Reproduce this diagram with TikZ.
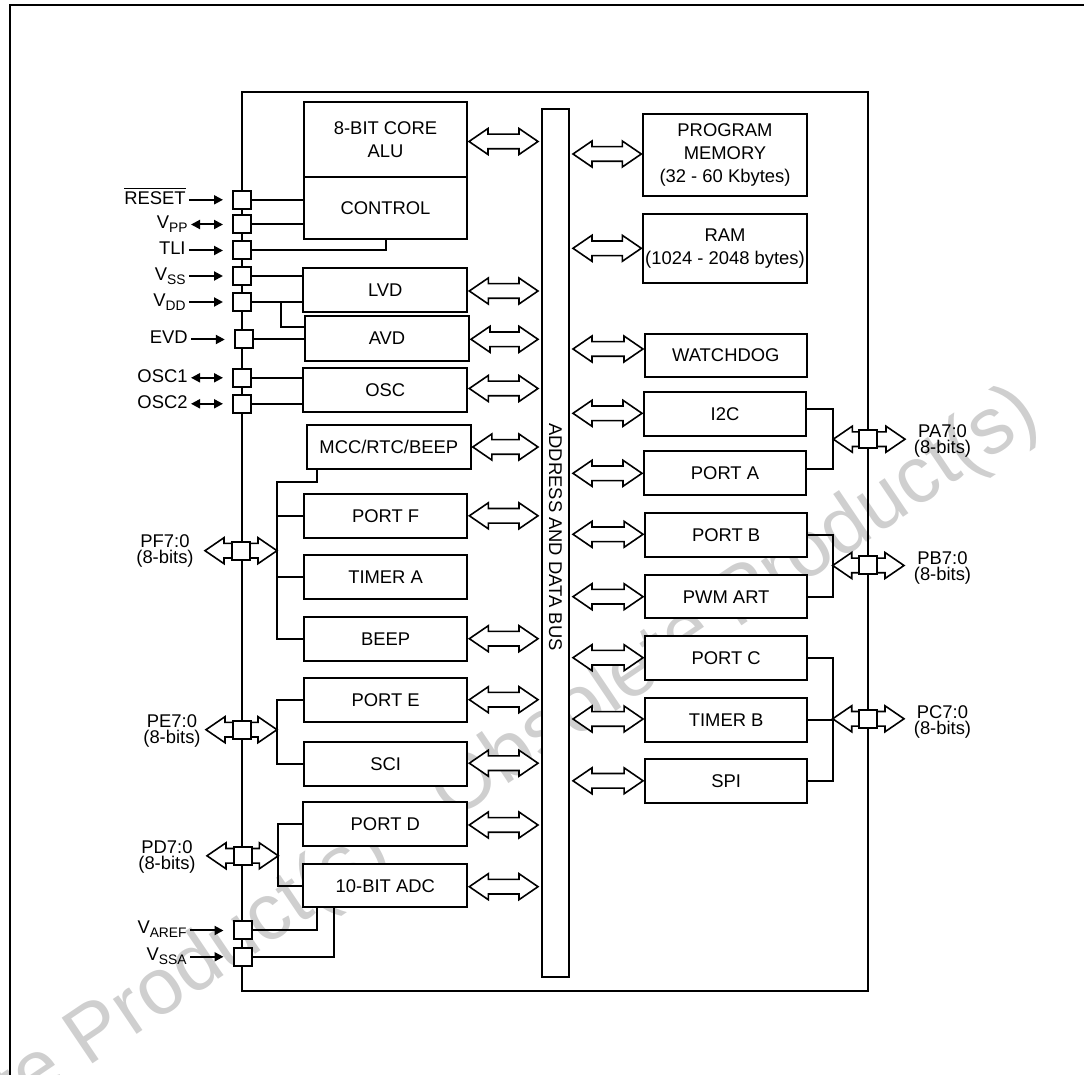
\documentclass[tikz,border=0pt]{standalone}
\usepackage{fontspec}
\setmainfont{Liberation Sans}
\usetikzlibrary{calc,arrows.meta}
\tikzset{
  blk/.style={draw, line width=1pt, inner sep=0pt, align=center, fill=white},
  lbox/.style={blk, minimum width=81.75pt, minimum height=22pt},
  rbox/.style={blk, minimum width=81.15pt, minimum height=21.7pt},
  pin/.style={draw, line width=1pt, fill=white, minimum size=9pt, inner sep=0pt},
  wire/.style={line width=1pt},
  harr/.style={line width=0.8pt, fill=white, line join=miter},
  sig/.style={line width=1pt, -{Triangle[length=4.5pt,width=4.5pt]}, shorten >=4.5pt},
  bsig/.style={line width=1pt, {Triangle[length=4.5pt,width=4.5pt]}-{Triangle[length=4.5pt,width=4.5pt]}, shorten >=4.5pt},
  plab/.style={anchor=base east, inner sep=1.5pt},
  portlab/.style={align=center, inner sep=0pt, font=\fontsize{9.2}{8}\selectfont},
  wmark/.style={text=black!19, font=\fontsize{40}{40}\selectfont, inner sep=0pt}
}
\newcommand\subfont{\fontsize{6.9}{7}\selectfont}
% hollow double arrow between the x of (ha1) and the x of (ha2), at the y of (ha3)
\newcommand\hollowdbl{%
  \draw[harr] let \p1=(ha1), \p2=(ha2), \p3=(ha3) in
    (\x1,\y3) -- (\x1+9.5pt,\y3+6.5pt) -- (\x1+9.5pt,\y3+3.65pt) -- (\x2-9.5pt,\y3+3.65pt)
    -- (\x2-9.5pt,\y3+6.5pt) -- (\x2,\y3) -- (\x2-9.5pt,\y3-6.5pt) -- (\x2-9.5pt,\y3-3.65pt)
    -- (\x1+9.5pt,\y3-3.65pt) -- (\x1+9.5pt,\y3-6.5pt) -- cycle;}
\begin{document}
\begin{tikzpicture}[x=0.5pt,y=-0.5pt, font=\fontsize{9.2}{11.5}\selectfont]
\useasboundingbox (0,0) rectangle (1084,1075);

% watermark
\node[wmark, rotate=34, anchor=base east] (wm) at (1043,423) {Obsolete Product(s) - Obsolete Product(s)};

% outer frame
\draw[line width=1.3pt] (10,1075) -- (10,5) -- (1084,5);

% chip outline
\node[draw, line width=1pt, inner sep=0pt, minimum width=313pt, minimum height=449.5pt] (chip) at (555,541.5) {};

% bus
\node[blk, minimum width=13.5pt, minimum height=434pt] (bus) at (555.5,543) {};
\node[rotate=-90, inner sep=0pt] (buslab) at (555.5,537) {ADDRESS AND DATA BUS};

% left column
\node[lbox, minimum width=81.5pt, minimum height=37.5pt] (core) at (385.5,139.5) {8-BIT CORE\\ALU};
\node[lbox, minimum width=81.5pt, minimum height=31pt] (control) at (385.5,208) {CONTROL};
\node[lbox, minimum width=82pt] (lvd) at (385.3,290) {LVD};
\node[lbox, minimum width=82pt, minimum height=22.25pt] (avd) at (387,338.5) {AVD};
\node[lbox, minimum width=82pt, minimum height=21.75pt] (osc) at (385.3,390) {OSC};
\node[lbox, minimum width=82pt] (mcc) at (388.8,447) {MCC/RTC/BEEP};
\node[lbox, minimum height=21.85pt] (portf) at (385.6,515.8) {PORT F};
\node[lbox] (timera) at (385.6,577) {TIMER A};
\node[lbox] (beep) at (385.6,638.7) {BEEP};
\node[lbox] (porte) at (385.6,699.7) {PORT E};
\node[lbox] (sci) at (385.6,763.7) {SCI};
\node[lbox, minimum width=82pt, minimum height=21.7pt] (portd) at (385.3,824) {PORT D};
\node[lbox, minimum width=82pt, minimum height=21.65pt] (adc) at (385.3,885.7) {10-BIT ADC};

% right column
\node[rbox, minimum width=81.7pt, minimum height=40.85pt] (pmem) at (725,154.8) {PROGRAM\\MEMORY\\(32 - 60 Kbytes)};
\node[rbox, minimum width=81.7pt, minimum height=34.65pt] (ram) at (725,248.7) {RAM\\(1024 - 2048 bytes)};
\node[rbox, minimum width=80.85pt, minimum height=21.35pt] (wdg) at (725.8,355.3) {WATCHDOG};
\node[rbox, minimum width=81pt] (i2c) at (725,414) {I2C};
\node[rbox, minimum width=81pt, minimum height=22pt] (porta) at (725,473) {PORT A};
\node[rbox] (portb) at (726.2,535) {PORT B};
\node[rbox] (pwm) at (726.2,596.7) {PWM ART};
\node[rbox, minimum height=22pt] (portc) at (726.2,658) {PORT C};
\node[rbox] (timerb) at (726.2,720) {TIMER B};
\node[rbox, minimum height=21.85pt] (spi) at (726.2,780.8) {SPI};

% bus arrows, left side
\foreach \b/\dy in {core/2, lvd/1, avd/0.8, osc/-1.5, mcc/0, portf/0, beep/0, porte/0, sci/-0.5, portd/1, adc/1}{
  \coordinate (ha1) at ($(\b.east)+(1,0)$);
  \coordinate (ha2) at ($(bus.west)+(-3,0)$);
  \coordinate (ha3) at ($(\b.east)+(0,\dy)$);
  \hollowdbl
}
% bus arrows, right side
\foreach \b/\dy in {pmem/-0.8, ram/-0.4, wdg/-6.3, i2c/-0.7, porta/0.3, portb/-0.7, pwm/0, portc/-0.3, timerb/-1, spi/0}{
  \coordinate (ha1) at ($(bus.east)+(3,0)$);
  \coordinate (ha2) at ($(\b.west)+(-1,0)$);
  \coordinate (ha3) at ($(\b.west)+(0,\dy)$);
  \hollowdbl
}

% ---------- left pins ----------
\coordinate (vddj) at (281,302);
\coordinate (pftop) at (277,481.7);
\coordinate (pfj) at (277,550.7);
\coordinate (pftip) at (205,550.7);
\coordinate (pej) at (277,729.7);
\coordinate (petip) at (206,729.7);
\coordinate (pdj) at (278.3,855.8);
\coordinate (pdtip) at (207,855.8);

\coordinate (cReset) at (242,199.8);
\coordinate (cVpp) at (242,224.5);
\coordinate (cTli) at (242,250.5);
\coordinate (cVss) at (242,276);
\coordinate (cVdd) at (242,302);
\coordinate (cEvd) at (243.8,339.5);
\coordinate (cOsc1) at (242,377.8);
\coordinate (cOsc2) at (242,403.8);
\coordinate (cAref) at (242.5,930.5);
\coordinate (cSsa) at (242.5,956.8);

% wires from pins
\draw[wire] (cReset) -- (cReset -| control.west);
\draw[wire] (cVpp) -- (cVpp -| control.west);
\draw[wire] (cTli) -| (control.south);
\draw[wire] (cVss) -- (cVss -| lvd.west);
\draw[wire] (cVdd) -- (cVdd -| lvd.west);
\draw[wire] (vddj) |- ($(avd.west)+(0,-11.2)$);
\draw[wire] (cEvd) -- (cEvd -| avd.west);
\draw[wire] (cOsc1) -- (cOsc1 -| osc.west);
\draw[wire] (cOsc2) -- (cOsc2 -| osc.west);

\draw[wire] ($(mcc.south west)+(11.6,0)$) |- (pftop) |- (beep.west);
\draw[wire] (pftop |- portf.west) -- (portf.west);
\draw[wire] (pftop |- timera.west) -- (timera.west);
\draw[wire] (porte.west) -| (pej |- sci.west) -- (sci.west);
\draw[wire] (portd.west) -| (pdj |- adc.west) -- (adc.west);
\draw[wire] (cAref) -| ($(adc.south west)+(15,0)$);
\draw[wire] (cSsa) -| ($(adc.south west)+(31.7,0)$);

\coordinate (ha1) at (pftip); \coordinate (ha2) at (pfj); \coordinate (ha3) at (pfj); \hollowdbl
\coordinate (ha1) at (petip); \coordinate (ha2) at (pej); \coordinate (ha3) at (pej); \hollowdbl
\coordinate (ha1) at (pdtip); \coordinate (ha2) at (pdj); \coordinate (ha3) at (pdj); \hollowdbl

% pin squares
\node[pin] (pReset) at (cReset) {};
\node[pin] (pVpp) at (cVpp) {};
\node[pin] (pTli) at (cTli) {};
\node[pin] (pVss) at (cVss) {};
\node[pin] (pVdd) at (cVdd) {};
\node[pin] (pEvd) at (cEvd) {};
\node[pin] (pOsc1) at (cOsc1) {};
\node[pin] (pOsc2) at (cOsc2) {};
\node[pin] (pPF) at (241,550.7) {};
\node[pin] (pPE) at (242,729.7) {};
\node[pin] (pPD) at (242.5,855.8) {};
\node[pin] (pAref) at (cAref) {};
\node[pin] (pSsa) at (cSsa) {};

% pin labels and signal arrows
\node[plab] (lReset) at (189,204.3) {$\overline{\mbox{RESET}}$};
\draw[sig] (lReset.base east |- pReset.west) -- (pReset.west);
\node[plab] (lVpp) at (191,229) {V\raisebox{-2pt}{\subfont PP}};
\draw[bsig] (lVpp.base east |- pVpp.west) -- (pVpp.west);
\node[plab] (lTli) at (189,255) {TLI};
\draw[sig] (lTli.base east |- pTli.west) -- (pTli.west);
\node[plab] (lVss) at (189,280.5) {V\raisebox{-2pt}{\subfont SS}};
\draw[sig] (lVss.base east |- pVss.west) -- (pVss.west);
\node[plab] (lVdd) at (189,306.5) {V\raisebox{-2pt}{\subfont DD}};
\draw[sig] (lVdd.base east |- pVdd.west) -- (pVdd.west);
\node[plab] (lEvd) at (191,344) {EVD};
\draw[sig] (lEvd.base east |- pEvd.west) -- (pEvd.west);
\node[plab] (lOsc1) at (191,382.3) {OSC1};
\draw[bsig] (lOsc1.base east |- pOsc1.west) -- (pOsc1.west);
\node[plab] (lOsc2) at (191,408.3) {OSC2};
\draw[bsig] (lOsc2.base east |- pOsc2.west) -- (pOsc2.west);
\node[plab] (lAref) at (190,934) {V\raisebox{-2pt}{\subfont AREF}};
\draw[sig] (lAref.base east |- pAref.west) -- (pAref.west);
\node[plab] (lSsa) at (190,960.3) {V\raisebox{-2pt}{\subfont SSA}};
\draw[sig] (lSsa.base east |- pSsa.west) -- (pSsa.west);

\node[portlab] (lPF) at (165,551) {PF7:0\\(8-bits)};
\node[portlab] (lPE) at (172,730.5) {PE7:0\\(8-bits)};
\node[portlab] (lPD) at (167,857) {PD7:0\\(8-bits)};

% ---------- right pins ----------
\coordinate (paj) at (833.3,439.2);
\coordinate (patip) at (905,439.2);
\coordinate (pbj) at (832.7,565.5);
\coordinate (pbtip) at (904,565.5);
\coordinate (pcj) at (832.7,718.8);
\coordinate (pctip) at (904,718.8);
\coordinate (i2ct) at ($(i2c.east)+(0,-5)$);
\coordinate (portat) at ($(porta.east)+(0,-3.7)$);

\draw[wire] (i2ct) -| (paj |- portat) -- (portat);
\draw[wire] (portb.east) -| (pbj |- pwm.east) -- (pwm.east);
\draw[wire] (portc.east) -| (pcj |- spi.east) -- (spi.east);
\draw[wire] (timerb.east) -- (pcj |- timerb.east);

\coordinate (ha1) at (paj); \coordinate (ha2) at (patip); \coordinate (ha3) at (paj); \hollowdbl
\coordinate (ha1) at (pbj); \coordinate (ha2) at (pbtip); \coordinate (ha3) at (pbj); \hollowdbl
\coordinate (ha1) at (pcj); \coordinate (ha2) at (pctip); \coordinate (ha3) at (pcj); \hollowdbl

\node[pin] (pPA) at (868.3,439.2) {};
\node[pin] (pPB) at (867.5,565.5) {};
\node[pin] (pPC) at (867.5,718.8) {};

\node[portlab] (lPA) at (942.5,441) {PA7:0\\(8-bits)};
\node[portlab] (lPB) at (942.5,568) {PB7:0\\(8-bits)};
\node[portlab] (lPC) at (942.5,721.5) {PC7:0\\(8-bits)};
\end{tikzpicture}
\end{document}
